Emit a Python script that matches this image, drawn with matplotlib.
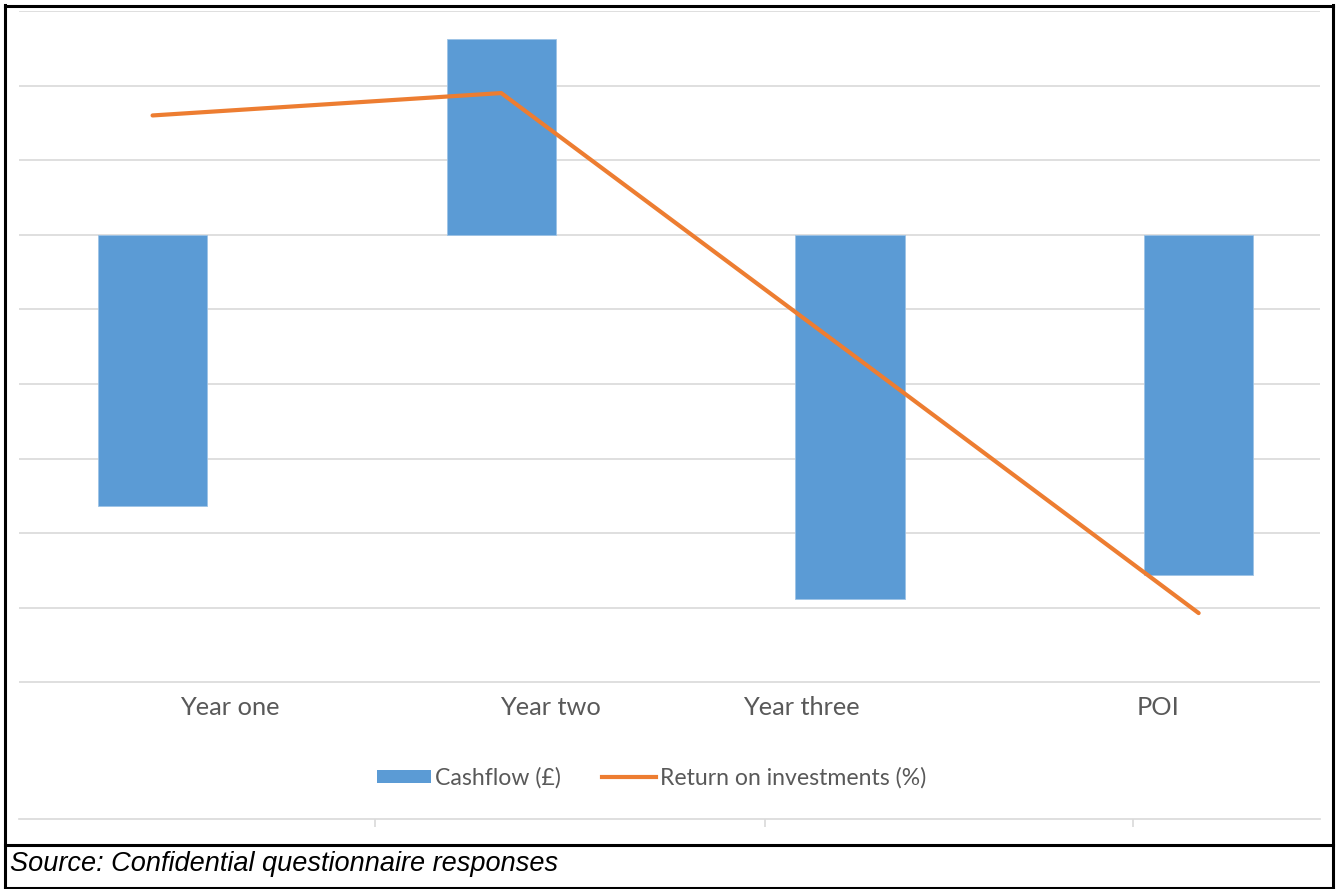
import matplotlib
matplotlib.use("Agg")
import matplotlib.pyplot as plt
from matplotlib.lines import Line2D
from matplotlib.patches import Patch

# values (one gridline = 1 unit, no axis numbers shown)
categories = ["Year one", "Year two", "Year three", "POI"]
cashflow = [-3.63, 2.63, -4.88, -4.56]
roi = [1.60, 1.90, -1.58, -5.07]

BLUE = "#5B9BD5"
ORANGE = "#ED7D31"
GRID = "#D9D9D9"
TEXT = "#595959"

fig = plt.figure(figsize=(13.38, 8.89), dpi=100)
ax = fig.add_axes([19 / 1338, 1 - 819 / 889, 1301 / 1338, 808 / 889])

x = list(range(len(categories)))
ax.bar(x, cashflow, width=0.313, color=BLUE, edgecolor="#9DC3E6", linewidth=0.6, zorder=2)
ax.plot(x, roi, color=ORANGE, lw=3, solid_capstyle="round", solid_joinstyle="round", zorder=3)

ax.set_xlim(-0.383, 3.348)
ax.set_ylim(-7.83, 3.0)
ax.set_yticks(range(-6, 4))
ax.yaxis.grid(True, color=GRID, lw=1.2, zorder=0)
ax.tick_params(axis="y", length=0, labelleft=False)
for side in ("top", "left", "right"):
    ax.spines[side].set_visible(False)
ax.spines["bottom"].set_color(GRID)
ax.spines["bottom"].set_linewidth(1.2)
# odd Excel layout: tick marks on the lower axis line sit between the categories
ax.set_xticks([0.638, 1.757, 2.813])
ax.tick_params(axis="x", length=6, width=1.2, color=GRID, labelbottom=False)

# category labels, offset from the bars as in the source image
label_x = [0.222, 1.14, 1.862, 2.883]
for lx, name in zip(label_x, categories):
    ax.text(lx, -6.33, name, ha="center", va="center", fontsize=18.3,
            color=TEXT, family="Lato")

handles = [Patch(facecolor=BLUE, edgecolor="none"),
           Line2D([0], [0], color=ORANGE, lw=3)]
fig.legend(handles, ["Cashflow (£)", "Return on investments (%)"],
           loc="center", bbox_to_anchor=(0.487, 1 - 778 / 889), ncol=2,
           frameon=False, handlelength=2.35, handleheight=0.5, handletextpad=0.15,
           columnspacing=1.8, prop={"family": "Lato", "size": 16.6}, labelcolor=TEXT)

# black table borders
def hline(y, x0=5, x1=1333):
    fig.add_artist(Line2D([x0 / 1338, x1 / 1338], [1 - y / 889, 1 - y / 889],
                          color="black", lw=2.2, transform=fig.transFigure))

def vline(xp, y0=5, y1=889):
    fig.add_artist(Line2D([xp / 1338, xp / 1338], [1 - y0 / 889, 1 - y1 / 889],
                          color="black", lw=2.2, transform=fig.transFigure))

hline(6)
hline(845)
hline(888)
vline(5)
vline(1333)

fig.text(10 / 1338, 1 - 864 / 889, "Source: Confidential questionnaire responses",
         ha="left", va="center", fontsize=19.5, style="italic",
         family="Liberation Sans", color="black")

fig.savefig("out.png", dpi=100)
